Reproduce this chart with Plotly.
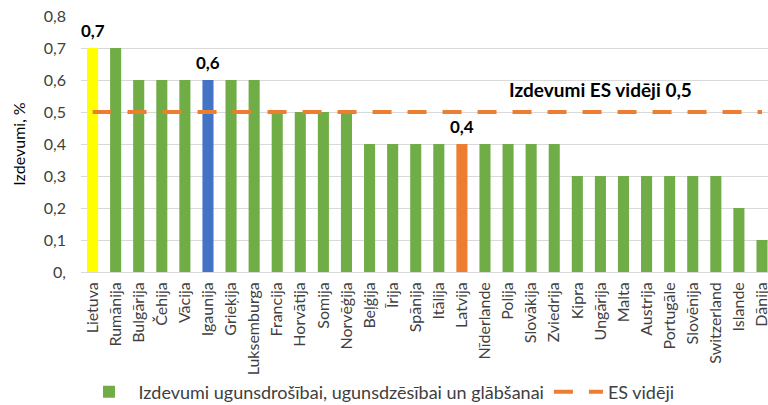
import plotly.graph_objects as go

countries = ["Lietuva", "Rumānija", "Bulgārija", "Čehija", "Vācija", "Igaunija", "Grieķija",
             "Luksemburga", "Francija", "Horvātija", "Somija", "Norvēģija", "Beļģija", "Īrija",
             "Spānija", "Itālija", "Latvija", "Nīderlande", "Polija", "Slovākija", "Zviedrija",
             "Kipra", "Ungārija", "Malta", "Austrija", "Portugāle", "Slovēnija", "Switzerland",
             "Islande", "Dānija"]
spending = [0.7, 0.7, 0.6, 0.6, 0.6, 0.6, 0.6,
            0.6, 0.5, 0.5, 0.5, 0.5, 0.4, 0.4,
            0.4, 0.4, 0.4, 0.4, 0.4, 0.4, 0.4,
            0.3, 0.3, 0.3, 0.3, 0.3, 0.3, 0.3,
            0.2, 0.1]
es_average = 0.5
es_line = [es_average] * len(countries)

highlight_colors = {"Lietuva": "#FFFF00", "Igaunija": "#4472C4", "Latvija": "#ED7D31"}
base_color = "#70AD47"
line_color = "#ED7D31"

y_tickvals = [0, 0.1, 0.2, 0.3, 0.4, 0.5, 0.6, 0.7, 0.8]
y_ticktext = ["0,", "0,1", "0,2", "0,3", "0,4", "0,5", "0,6", "0,7", "0,8"]

FONT = "Lato, Carlito, 'Open Sans', sans-serif"
TXT = "#404040"

green_vals = [None if c in highlight_colors else v for c, v in zip(countries, spending)]
hl_vals = [v if c in highlight_colors else None for c, v in zip(countries, spending)]
hl_colors = [highlight_colors.get(c, base_color) for c in countries]

fig = go.Figure()
fig.add_trace(go.Bar(
    x=countries, y=green_vals,
    marker=dict(color=base_color, line=dict(width=0)),
    name="Izdevumi ugunsdrošībai, ugunsdzēsībai un glābšanai",
    hoverinfo="x+y",
))
fig.add_trace(go.Bar(
    x=countries, y=hl_vals,
    marker=dict(color=hl_colors, line=dict(width=0)),
    showlegend=False, name="Izcelts", hoverinfo="x+y",
))
fig.add_trace(go.Scatter(
    x=countries, y=es_line, mode="lines",
    line=dict(color=line_color, width=4, dash="19px,16px"),
    name="ES vidēji",
))

# value labels above the highlighted bars
for c, v in zip(countries, spending):
    if c in highlight_colors:
        fig.add_annotation(
            x=c, y=v, xref="x", yref="y", yshift=17.5, yanchor="middle",
            text=("%.1f" % v).replace(".", ","), showarrow=False,
            font=dict(family=FONT, size=17, color="#000000", weight="bold"),
        )

fig.add_annotation(
    x=countries[22], y=es_average + 0.07, xref="x", yref="y",
    text=("Izdevumi ES vidēji %.1f" % es_average).replace(".", ","),
    showarrow=False, font=dict(family=FONT, size=19, color="#000000", weight="bold"),
)

fig.update_layout(
    width=768, height=405,
    margin=dict(l=80.5, r=0, t=16, b=133, autoexpand=False),
    paper_bgcolor="white", plot_bgcolor="white",
    separators=",.",
    barmode="overlay",
    bargap=0.52,
    font=dict(family=FONT, size=16, color=TXT),
    showlegend=True,
    legend=dict(orientation="h", x=-0.0022, xanchor="left", y=-0.469, yanchor="middle",
                font=dict(family=FONT, size=18, color=TXT), itemwidth=49,
                bgcolor="rgba(0,0,0,0)", traceorder="normal"),
)
fig.update_xaxes(
    range=[-0.5, 29.26], tickangle=-90, showgrid=False, showline=False,
    ticks="", tickfont=dict(family=FONT, size=16, color=TXT), ticklabelstandoff=6,
    automargin=False, ticklabeloverflow="allow",
)
fig.update_yaxes(
    range=[0, 0.8], tickvals=y_tickvals, ticktext=y_ticktext,
    showgrid=True, gridcolor="#D9D9D9", gridwidth=1,
    zeroline=True, zerolinecolor="#D9D9D9", zerolinewidth=1,
    ticks="", ticklabelstandoff=14, automargin=False, ticklabeloverflow="allow",
    tickfont=dict(family=FONT, size=16, color=TXT),
    title=dict(text="Izdevumi, %", font=dict(family=FONT, size=16, color="#000000"), standoff=14),
)

# remove the browser's default page margin so the 768x405 figure fills the window
fig.write_html("out.html", config={"displayModeBar": False},
               post_script="document.body.style.margin='0';")
